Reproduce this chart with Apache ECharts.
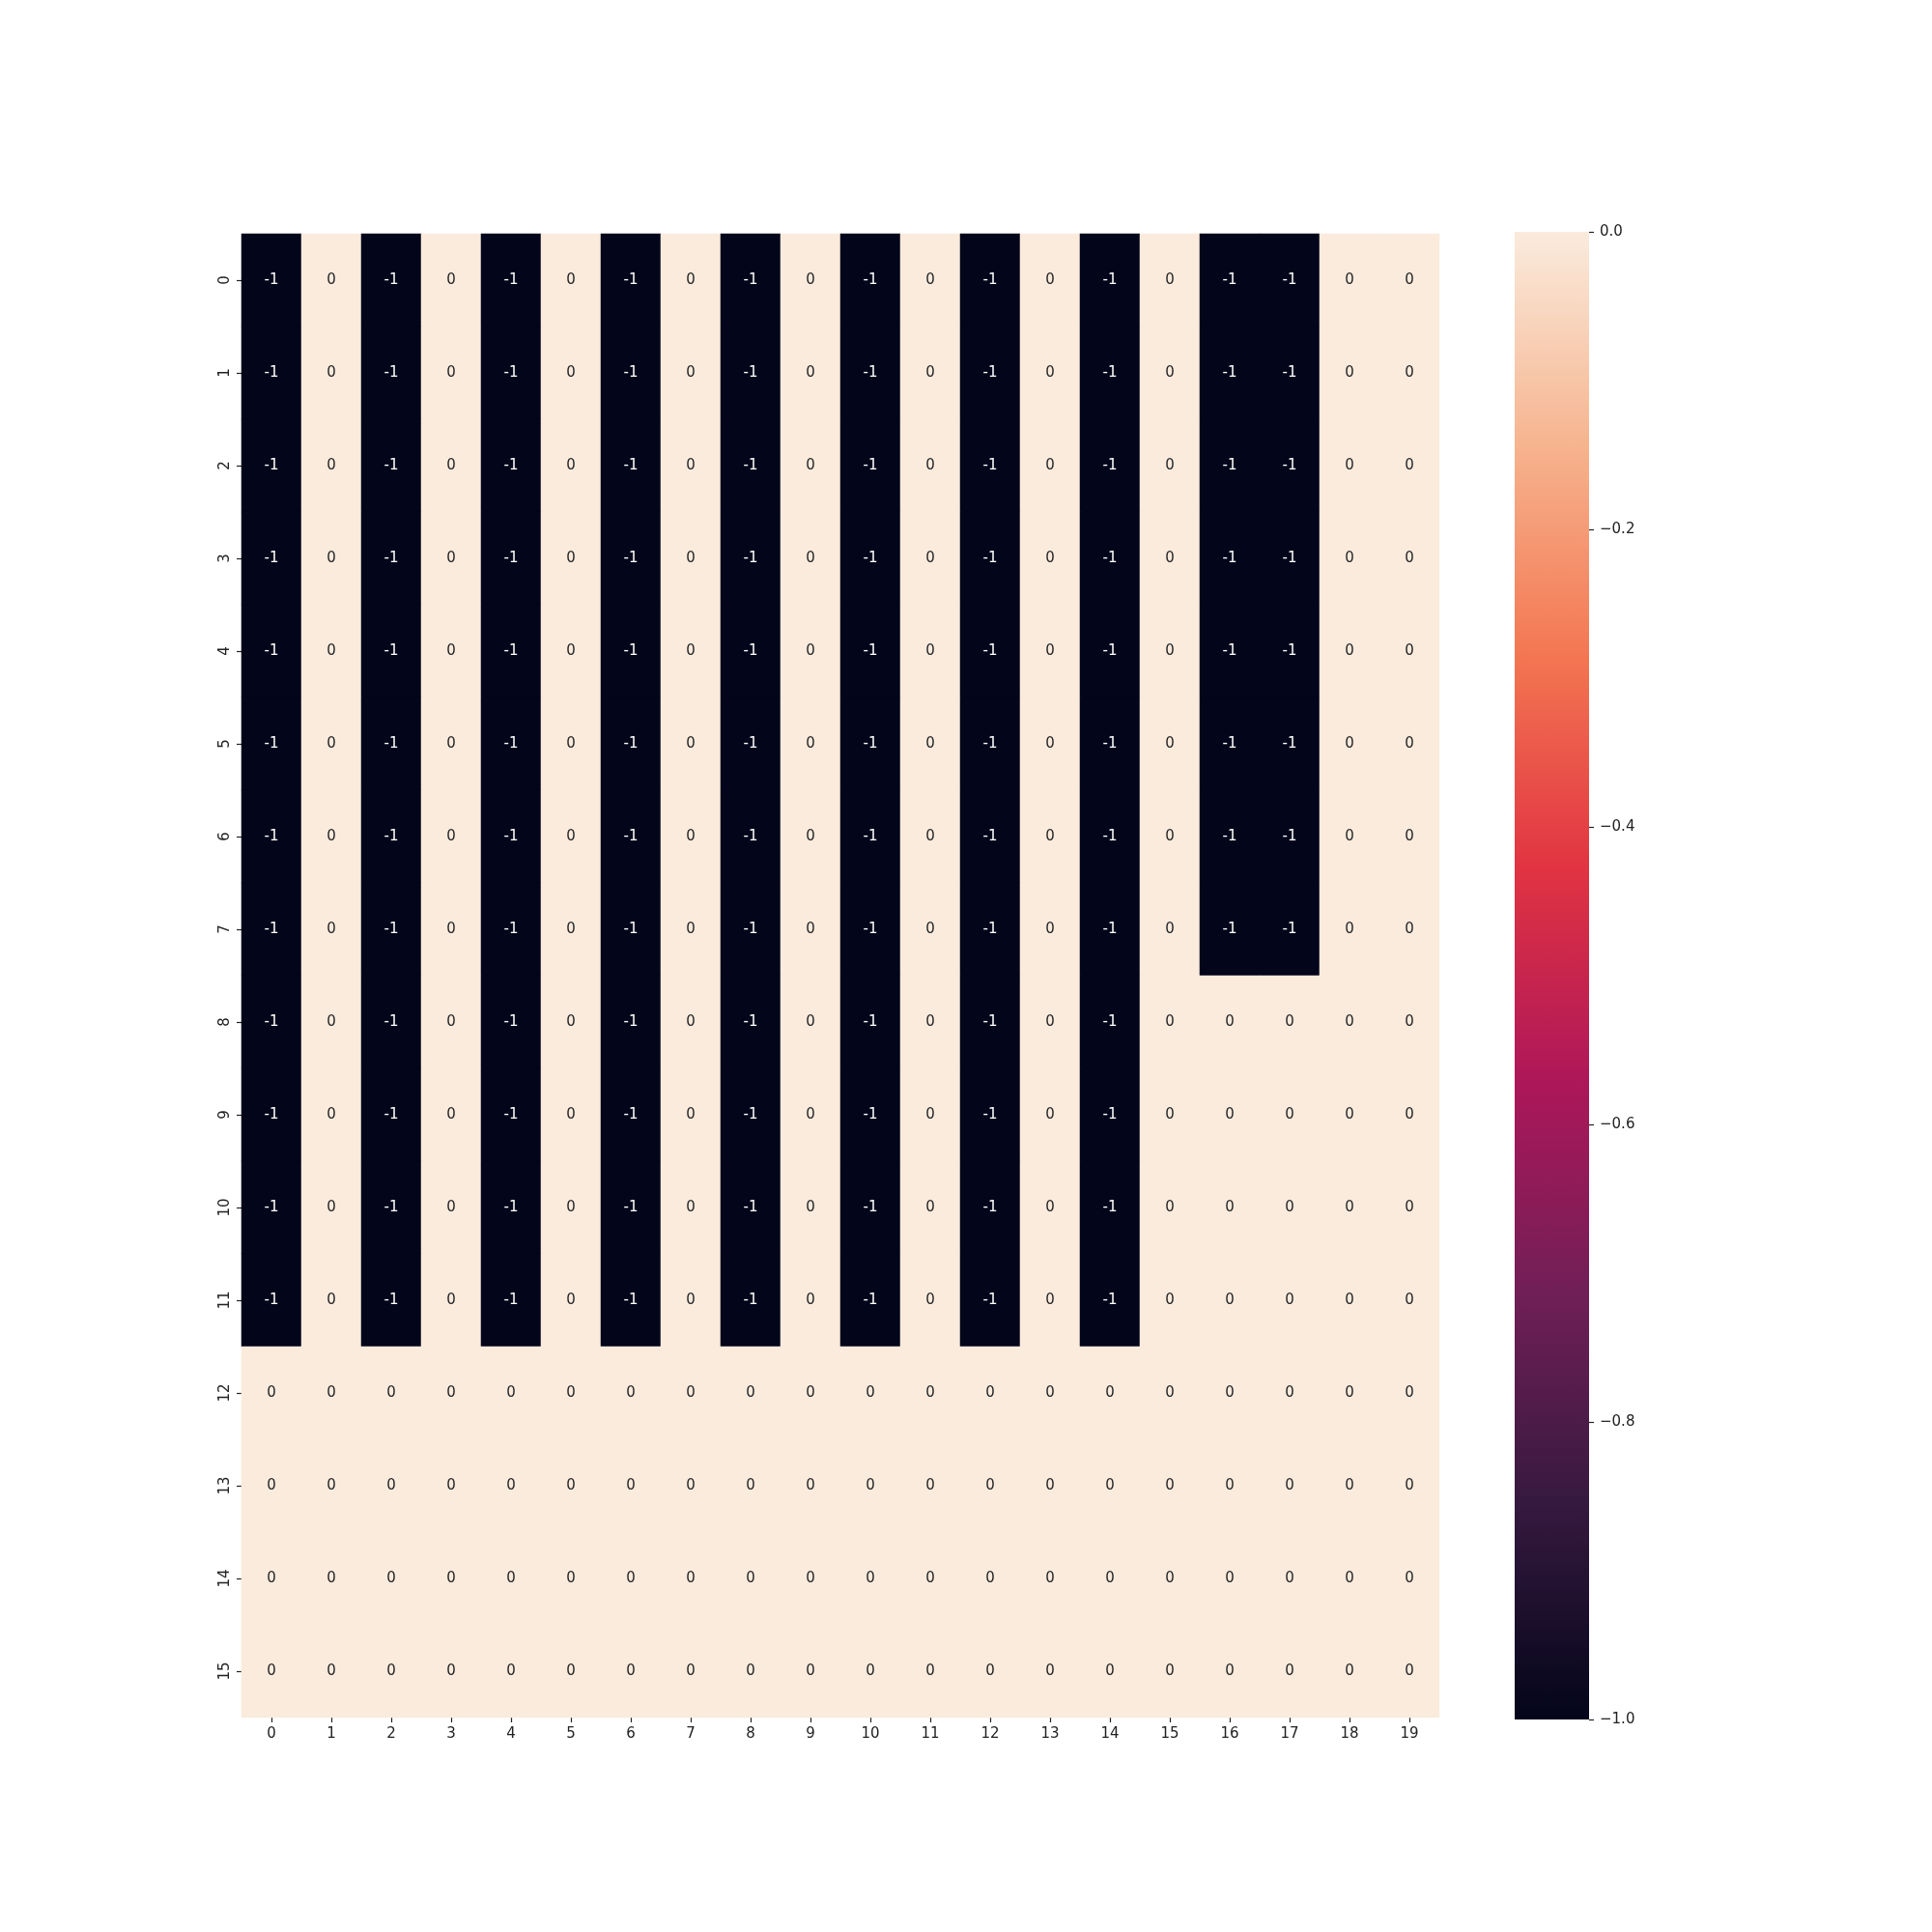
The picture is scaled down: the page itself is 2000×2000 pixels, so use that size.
<!DOCTYPE html>
<html>
<head>
<meta charset="utf-8">
<script src="https://cdn.jsdelivr.net/npm/echarts@6/dist/echarts.min.js"></script>
<style>
html,body{margin:0;padding:0;background:#fff;}
#chart{width:2000px;height:2000px;}
</style>
</head>
<body>
<div id="chart"></div>
<script>
var xCategories = ['0','1','2','3','4','5','6','7','8','9','10','11','12','13','14','15','16','17','18','19'];
var yCategories = ['0','1','2','3','4','5','6','7','8','9','10','11','12','13','14','15'];
var matrix = [
  [-1,0,-1,0,-1,0,-1,0,-1,0,-1,0,-1,0,-1,0,-1,-1,0,0],
  [-1,0,-1,0,-1,0,-1,0,-1,0,-1,0,-1,0,-1,0,-1,-1,0,0],
  [-1,0,-1,0,-1,0,-1,0,-1,0,-1,0,-1,0,-1,0,-1,-1,0,0],
  [-1,0,-1,0,-1,0,-1,0,-1,0,-1,0,-1,0,-1,0,-1,-1,0,0],
  [-1,0,-1,0,-1,0,-1,0,-1,0,-1,0,-1,0,-1,0,-1,-1,0,0],
  [-1,0,-1,0,-1,0,-1,0,-1,0,-1,0,-1,0,-1,0,-1,-1,0,0],
  [-1,0,-1,0,-1,0,-1,0,-1,0,-1,0,-1,0,-1,0,-1,-1,0,0],
  [-1,0,-1,0,-1,0,-1,0,-1,0,-1,0,-1,0,-1,0,-1,-1,0,0],
  [-1,0,-1,0,-1,0,-1,0,-1,0,-1,0,-1,0,-1,0,0,0,0,0],
  [-1,0,-1,0,-1,0,-1,0,-1,0,-1,0,-1,0,-1,0,0,0,0,0],
  [-1,0,-1,0,-1,0,-1,0,-1,0,-1,0,-1,0,-1,0,0,0,0,0],
  [-1,0,-1,0,-1,0,-1,0,-1,0,-1,0,-1,0,-1,0,0,0,0,0],
  [0,0,0,0,0,0,0,0,0,0,0,0,0,0,0,0,0,0,0,0],
  [0,0,0,0,0,0,0,0,0,0,0,0,0,0,0,0,0,0,0,0],
  [0,0,0,0,0,0,0,0,0,0,0,0,0,0,0,0,0,0,0,0],
  [0,0,0,0,0,0,0,0,0,0,0,0,0,0,0,0,0,0,0,0]
];
var colorbarTicks = [-1.0, -0.8, -0.6, -0.4, -0.2, 0.0];
var rocket = ['#03051A','#35193E','#701F57','#AD1759','#E13342','#F37651','#F6B48F','#FAEBDD'];

var data = [];
for (var r = 0; r < matrix.length; r++) {
  for (var c = 0; c < matrix[r].length; c++) {
    var v = matrix[r][c];
    data.push({
      value: [c, r, v],
      label: { color: v < -0.5 ? '#ffffff' : '#262626' }
    });
  }
}

// colorbar gradient: top = max (0), bottom = min (-1)
var stops = [];
for (var i = 0; i < rocket.length; i++) {
  stops.push({ offset: 1 - i / (rocket.length - 1), color: rocket[i] });
}
stops.reverse();

var FONT = 'DejaVu Sans';
var chart = echarts.init(document.getElementById('chart'), null, {renderer: 'canvas'});
chart.setOption({
  animation: false,
  backgroundColor: '#ffffff',
  textStyle: { fontFamily: FONT },
  grid: [
    { left: 250, top: 242, width: 1240, height: 1536, containLabel: false },
    { left: 1568, top: 240, width: 77, height: 1540, containLabel: false,
      show: true, borderWidth: 0,
      backgroundColor: new echarts.graphic.LinearGradient(0, 0, 0, 1, stops) }
  ],
  xAxis: [
    {
      type: 'category', gridIndex: 0, data: xCategories, position: 'bottom',
      axisLine: { show: false },
      axisTick: { show: true, alignWithLabel: true, length: 5, lineStyle: { color: '#222', width: 1.2 } },
      axisLabel: { fontFamily: FONT, fontSize: 15, color: '#222', margin: 10 },
      splitLine: { show: false }
    },
    {
      type: 'category', gridIndex: 1, data: ['c'], show: false,
      axisLine: { show: false, onZero: false }
    }
  ],
  yAxis: [
    {
      type: 'category', gridIndex: 0, data: yCategories, inverse: true,
      axisLine: { show: false },
      axisTick: { show: true, alignWithLabel: true, length: 5, lineStyle: { color: '#222', width: 1.2 } },
      axisLabel: { fontFamily: FONT, fontSize: 15, color: '#222', rotate: 90, margin: 9 },
      splitLine: { show: false }
    },
    {
      type: 'value', gridIndex: 1, position: 'right', min: -1, max: 0, interval: 0.2,
      axisLine: { show: false, onZero: false },
      axisTick: { show: true, inside: false, length: 5, lineStyle: { color: '#222', width: 1.2 } },
      axisLabel: {
        fontFamily: FONT, fontSize: 15, color: '#222', margin: 11,
        formatter: function (v) { return v.toFixed(1).replace('-', '\u2212'); }
      },
      splitLine: { show: false }
    }
  ],
  visualMap: {
    type: 'continuous',
    show: false,
    seriesIndex: 0,
    dimension: 2,
    min: -1, max: 0,
    inRange: { color: rocket }
  },
  series: [
    {
      type: 'heatmap',
      xAxisIndex: 0, yAxisIndex: 0,
      data: data,
      label: { show: true, fontFamily: FONT, fontSize: 15, formatter: function (p) { return String(p.value[2]); } },
      itemStyle: { borderWidth: 0 },
      emphasis: { disabled: true }
    }
  ]
});
</script>
</body>
</html>
